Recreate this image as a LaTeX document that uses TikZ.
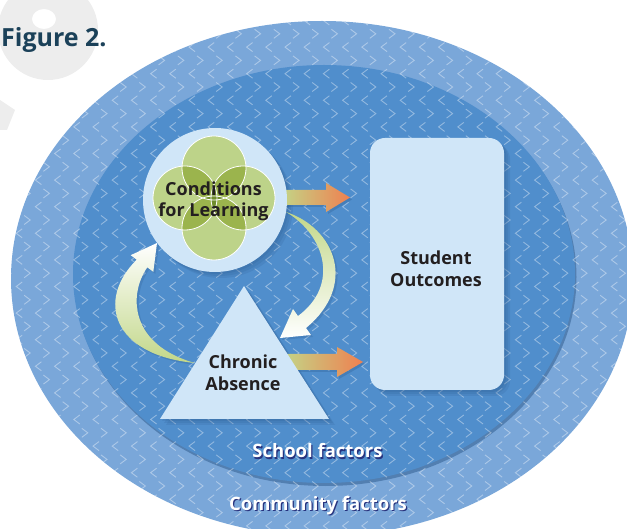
\documentclass[tikz,border=0pt]{standalone}
\usepackage{fontspec}
\setmainfont{Open Sans}
\definecolor{outerblue}{HTML}{7AA7D9}
\definecolor{innerblue}{HTML}{508ECC}
\definecolor{paleblue}{HTML}{D0E6F8}
\definecolor{lgreen}{HTML}{BDD389}
\definecolor{mgreen}{HTML}{9BB44D}
\definecolor{dgreen}{HTML}{6F8D2C}
\definecolor{txt}{HTML}{231F20}
\definecolor{figblue}{HTML}{1B4159}
\definecolor{navy}{HTML}{27337E}
\definecolor{orng}{HTML}{EF8050}
\definecolor{tanc}{HTML}{D9B16F}
\definecolor{agreen}{HTML}{C2D788}
\definecolor{shadowblue}{HTML}{234F82}
\definecolor{wm}{HTML}{EDEDED}
\tikzset{
  chev/.style={draw=white, draw opacity=0.38, line width=0.9pt},
  lbl/.style={font=\bfseries\fontsize{18}{22}\selectfont, text=txt, inner sep=0pt, anchor=base},
  factor/.style={font=\bfseries\fontsize{18.5}{22}\selectfont, text=white, inner sep=0pt, anchor=base},
  factorshadow/.style={font=\bfseries\fontsize{18.5}{22}\selectfont, text=navy, inner sep=0pt, anchor=base},
  shad/.style={fill=shadowblue, fill opacity=0.13},
}
\begin{document}
\begin{tikzpicture}[x=1pt,y=-1pt]
\useasboundingbox (0,0) rectangle (627,529);
% watermark
\begin{scope}
\clip (0,0) rectangle (627,529);
\fill[wm,even odd rule] (48,30) ellipse [x radius=50, y radius=50] (44,19) ellipse [x radius=12, y radius=10];
\fill[wm] (0,100) -- (15,110) -- (7,130) -- (0,130) -- cycle;
\end{scope}
% ellipses
\fill[outerblue] (322,278.5) ellipse [x radius=311, y radius=257.5];
\fill[shadowblue, fill opacity=0.45] (325.5,277) ellipse [x radius=251, y radius=209];
\fill[innerblue] (324,274) ellipse [x radius=251, y radius=209];
% chevrons
\begin{scope}
\clip (322,278.5) ellipse [x radius=311, y radius=257.5];
\foreach \r in {0,...,20} {
  \foreach \c in {0,...,33} {
    \draw[chev] ({\c*19.2+3},{\r*26.6+16}) -- ++(-6,4.5) -- ++(6,4.5);
    \draw[chev] ({\c*19.2+5},{\r*26.6+29.3}) -- ++(6,4.5) -- ++(-6,4.5);
  }
}
\end{scope}
% Figure label
\node[font=\bfseries\fontsize{25}{30}\selectfont, text=figblue, inner sep=0pt, anchor=base west] (fig) at (1,47) {Figure 2.};
% shadows of shapes
\foreach \d in {2,4,6} {
  \fill[shad] (215+\d,200+\d) circle[radius=72];
  \fill[shad] (244+\d,286+\d) -- (160+\d,419+\d) -- (329+\d,419+\d) -- cycle;
  \fill[shad, rounded corners=15pt] (370+\d,138+\d) rectangle (504+\d,390+\d);
}
% straight arrows
\fill[shadowblue, fill opacity=0.25] (282,192) -- (328,192) -- (328,185) -- (352,199.5) -- (328,214) -- (328,207) -- (282,207) -- cycle;
\shade[left color=agreen, middle color=tanc, right color=orng] (280,190) -- (326,190) -- (326,183) -- (350,197.5) -- (326,212) -- (326,205) -- (280,205) -- cycle;
\fill[shadowblue, fill opacity=0.25] (284,356) -- (339,356) -- (339,349) -- (365,364) -- (339,379) -- (339,372) -- (284,372) -- cycle;
\shade[left color=agreen, middle color=tanc, right color=orng] (282,354) -- (337,354) -- (337,347) -- (363,362) -- (337,377) -- (337,370) -- (282,370) -- cycle;
% curved arrow right (circle to triangle)
\fill[shadowblue, fill opacity=0.2] (288,214) .. controls (337,230) and (360,287) .. (308,330) -- (313,337) -- (282,340) -- (295,311) -- (300,318) .. controls (342,287) and (327,237) .. (288,214) -- cycle;
\shade[top color=agreen, middle color=agreen!45!white, bottom color=white] (286,212) .. controls (335,228) and (358,285) .. (306,328) -- (311,335) -- (280,338) -- (293,309) -- (298,316) .. controls (340,285) and (325,235) .. (286,212) -- cycle;
% curved arrow left (triangle to circle)
\fill[shadowblue, fill opacity=0.2] (197,365) .. controls (114,357) and (98,302) .. (138.7,261.7) -- (132.7,257.2) -- (159,245) -- (155.3,273.8) -- (149.3,269.3) .. controls (130,297) and (132,347) .. (197,365) -- cycle;
\shade[bottom color=agreen, middle color=agreen!40!white, top color=white] (195,363) .. controls (112,355) and (96,300) .. (136.7,259.7) -- (130.7,255.2) -- (157,243) -- (153.3,271.8) -- (147.3,267.3) .. controls (128,295) and (130,345) .. (195,363) -- cycle;
% shapes
\node[circle, fill=paleblue, minimum size=144pt, inner sep=0pt] (cond) at (215,200) {};
\fill[paleblue] (244,286) -- (160,419) -- (329,419) -- cycle;
\node[fill=paleblue, rounded corners=15pt, minimum width=134pt, minimum height=252pt, inner sep=0pt] (out) at (437,264) {};
% clover
\foreach \p in {(214,168),(214,228),(185,198),(243,198)} \fill[lgreen] \p circle[radius=32];
\begin{scope}
\clip (214,168) circle[radius=32];
\fill[mgreen] (185,198) circle[radius=32];
\fill[mgreen] (243,198) circle[radius=32];
\end{scope}
\begin{scope}
\clip (214,228) circle[radius=32];
\fill[mgreen] (185,198) circle[radius=32];
\fill[mgreen] (243,198) circle[radius=32];
\end{scope}
\begin{scope}
\clip (214,168) circle[radius=32];
\fill[dgreen] (214,228) circle[radius=32];
\end{scope}
\begin{scope}
\clip (185,198) circle[radius=32];
\fill[dgreen] (243,198) circle[radius=32];
\end{scope}
\foreach \p in {(214,168),(214,228),(185,198),(243,198)} \draw[white, line width=0.8pt] \p circle[radius=32];
% labels
\node[lbl] (c1) at (213.5,196) {Conditions};
\node[lbl] (c2) at (213.5,217) {for Learning};
\node[lbl] (a1) at (243,369) {Chronic};
\node[lbl] (a2) at (243,391) {Absence};
\node[lbl] (s1) at (436,265) {Student};
\node[lbl] (s2) at (436,287) {Outcomes};
\node[factorshadow] (sfs) at (318.7,459) {School factors};
\node[factor] (sf) at (317.5,457.8) {School factors};
\node[factorshadow] (cfs) at (319.2,511.2) {Community factors};
\node[factor] (cf) at (318,510) {Community factors};
\end{tikzpicture}
\end{document}
